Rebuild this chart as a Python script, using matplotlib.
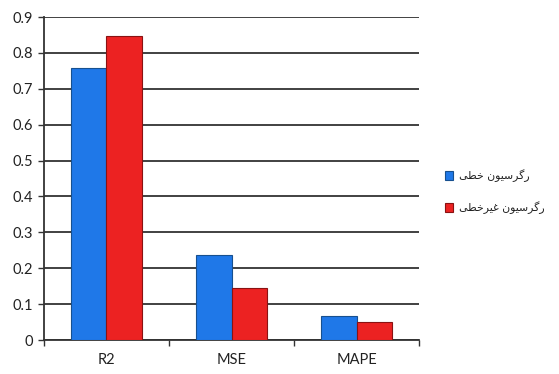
import numpy as np
import matplotlib.pyplot as plt
from matplotlib.patches import Rectangle

metrics = ['R2', 'MSE', 'MAPE']
linear_vals = [0.757, 0.236, 0.068]
nonlinear_vals = [0.848, 0.145, 0.049]
series_names = ['رگرسیون خطی', 'رگرسیون غیرخطی']
y_ticks = [0, 0.1, 0.2, 0.3, 0.4, 0.5, 0.6, 0.7, 0.8, 0.9]

# contextual forms (isolated, final, initial, medial); right-joining letters have two
FORMS = {
    'ر': (0xFEAD, 0xFEAE), 'و': (0xFEED, 0xFEEE),
    'گ': (0xFB92, 0xFB93, 0xFB94, 0xFB95), 'س': (0xFEB1, 0xFEB2, 0xFEB3, 0xFEB4),
    'ی': (0xFBFC, 0xFBFD, 0xFBFE, 0xFBFF), 'ن': (0xFEE5, 0xFEE6, 0xFEE7, 0xFEE8),
    'خ': (0xFEA5, 0xFEA6, 0xFEA7, 0xFEA8), 'ط': (0xFEC1, 0xFEC2, 0xFEC3, 0xFEC4),
    'غ': (0xFECD, 0xFECE, 0xFECF, 0xFED0),
}


def shape_fa(s):
    out = []
    for i, ch in enumerate(s):
        f = FORMS.get(ch)
        if f is None:
            out.append(ch)
            continue
        prev = s[i - 1] if i > 0 else ''
        nxt = s[i + 1] if i + 1 < len(s) else ''
        join_prev = prev in FORMS and len(FORMS[prev]) == 4
        join_next = len(f) == 4 and nxt in FORMS
        if join_prev and join_next:
            cp = f[3]
        elif join_prev:
            cp = f[1]
        elif join_next:
            cp = f[2]
        else:
            cp = f[0]
        out.append(chr(cp))
    return ''.join(reversed(out))


plt.rcParams['font.family'] = ['Lato', 'DejaVu Sans']
fig = plt.figure(figsize=(5.59, 3.74), dpi=100)
ax = fig.add_axes([0.0787, 0.0909, 0.6709, 0.8636])

x = np.arange(len(metrics))
w = 0.284
ax.bar(x - w / 2, linear_vals, w, color='#1F78E8', edgecolor='#17508F', linewidth=0.8, zorder=3)
ax.bar(x + w / 2, nonlinear_vals, w, color='#EC2222', edgecolor='#8A1212', linewidth=0.8, zorder=3)

ax.set_xlim(-0.5, 2.5)
ax.set_ylim(0, 0.9)
ax.set_yticks(y_ticks)
ax.set_yticklabels(['0'] + [f'{v:.1f}' for v in y_ticks[1:]])
ax.yaxis.grid(True, color='#333333', linewidth=1.3, zorder=0)
ax.set_axisbelow(True)

ax.set_xticks(x)
ax.set_xticklabels(metrics)
ax.set_xticks([-0.5, 0.5, 1.5, 2.5], minor=True)
ax.tick_params(axis='x', which='major', length=0, pad=9, labelsize=10.5, colors='#222222')
ax.tick_params(axis='x', which='minor', length=4, width=1, color='#333333', direction='out')
ax.tick_params(axis='y', length=4, width=1, color='#333333', labelsize=10.5, pad=4, labelcolor='#222222')

for side in ['top', 'right']:
    ax.spines[side].set_visible(False)
for side in ['left', 'bottom']:
    ax.spines[side].set_color('#333333')
    ax.spines[side].set_linewidth(1.3)

# legend: square marker left of the right-to-left label
for i, (name, col, ec) in enumerate(zip(series_names, ['#1F78E8', '#EC2222'], ['#17508F', '#8A1212'])):
    yy = 0.530 - i * 0.086
    fig.patches.append(Rectangle((0.796, yy - 0.012), 0.015, 0.024, transform=fig.transFigure,
                                 facecolor=col, edgecolor=ec, linewidth=0.8))
    fig.text(0.822, yy, shape_fa(name), ha='left', va='center', fontsize=7.8,
             family=['DejaVu Sans'], color='#222222')

fig.savefig('out.png', dpi=100)
